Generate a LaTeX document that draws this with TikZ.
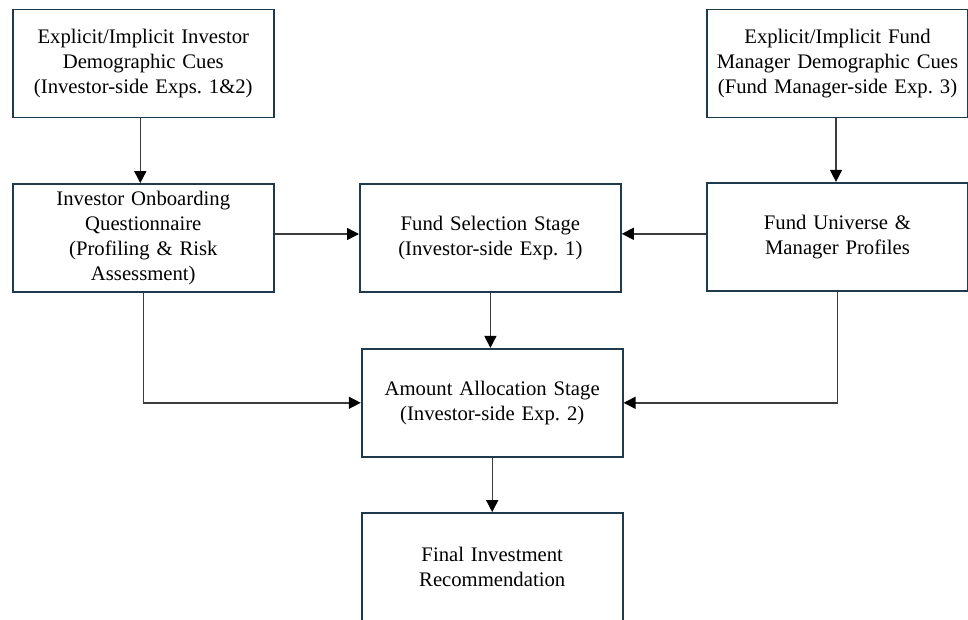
\documentclass[tikz,border=0pt]{standalone}
\usepackage{fontspec}
\setmainfont{Liberation Serif}
\usetikzlibrary{arrows.meta}
\definecolor{boxline}{HTML}{1E3A4C}
\definecolor{conn}{HTML}{3C3C3C}
\begin{document}
\frenchspacing
\begin{tikzpicture}[x=1pt,y=-1pt,
  stagebox/.style={draw=boxline, line width=1.8pt, fill=white, minimum width=261pt, minimum height=108pt,
    text width=250pt, align=center, inner sep=0pt, font=\fontsize{20.7}{24.9}\selectfont\frenchspacing},
  arr/.style={draw=conn, line width=1.4pt, -{Triangle[length=12pt,width=12pt,color=black]}}]
\useasboundingbox (0,0) rectangle (968,619);
\node[stagebox] (cueI) at (143.3,63.5) {Explicit/Implicit Investor\\Demographic Cues\\(Investor-side Exps. 1\&2)};
\node[stagebox] (cueF) at (837.5,63.5) {Explicit/Implicit Fund\\Manager Demographic Cues\\(Fund Manager-side Exp. 3)};
\node[stagebox] (onb) at (143.3,238) {Investor Onboarding\\Questionnaire\\(Profiling \& Risk\\Assessment)};
\node[stagebox] (sel) at (490.4,237.8) {Fund Selection Stage\\(Investor-side Exp. 1)};
\node[stagebox] (univ) at (837.5,236.8) {Fund Universe \&\\Manager Profiles};
\node[stagebox] (alloc) at (492.2,402.8) {Amount Allocation Stage\\(Investor-side Exp. 2)};
\node[stagebox] (final) at (492.2,567) {Final Investment\\Recommendation};
\draw[arr] ([xshift=-3pt]cueI.south) -- ([xshift=-3pt]cueI.south |- onb.north);
\draw[arr] ([xshift=-1.5pt]cueF.south) -- ([xshift=-1.5pt]cueF.south |- univ.north);
\draw[arr] ([yshift=4pt]onb.east) -- ([yshift=4pt]onb.east -| sel.west);
\draw[arr] ([yshift=3pt]univ.west) -- ([yshift=3pt]univ.west -| sel.east);
\draw[arr] (sel.south) -- (sel.south |- alloc.north);
\draw[arr] (onb.south) |- (alloc.west);
\draw[arr] (univ.south) |- (alloc.east);
\draw[arr] (alloc.south) -- (final.north);
\end{tikzpicture}
\end{document}
